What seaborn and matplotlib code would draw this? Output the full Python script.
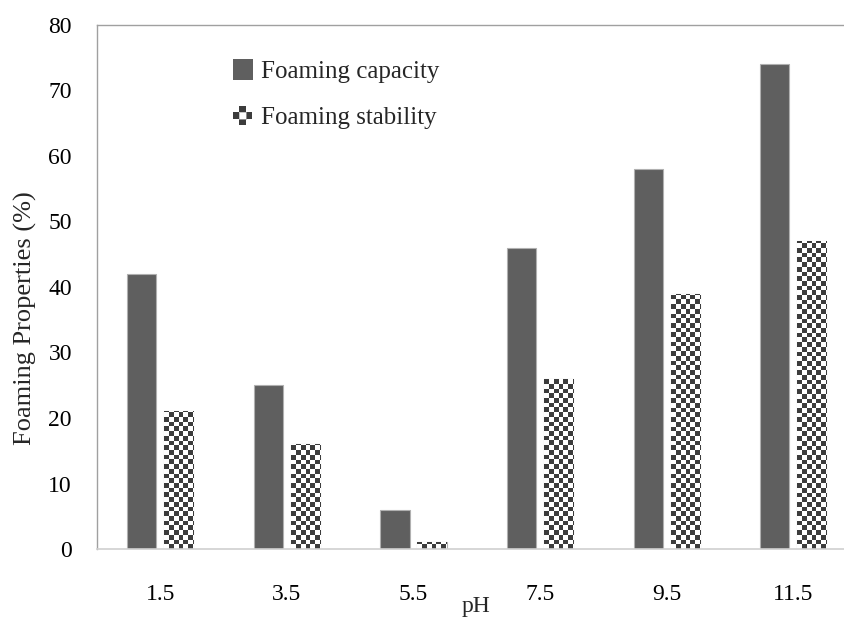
import numpy as np
import pandas as pd
import matplotlib
matplotlib.use("Agg")
import matplotlib.pyplot as plt
import seaborn as sns
from matplotlib.patches import Rectangle
from matplotlib.legend_handler import HandlerBase
from matplotlib.colors import ListedColormap

ph_labels = ["1.5", "3.5", "5.5", "7.5", "9.5", "11.5"]
foaming_capacity = [42, 25, 6, 46, 58, 74]
foaming_stability = [21, 16, 1, 26, 39, 47]
series_names = ["Foaming capacity", "Foaming stability"]

df = pd.DataFrame({
    "pH": ph_labels * 2,
    "value": foaming_capacity + foaming_stability,
    "series": [series_names[0]] * 6 + [series_names[1]] * 6,
})

sns.set_style("white")
plt.rcParams["font.family"] = ["Liberation Serif", "DejaVu Serif"]

W, H = 845, 622
fig = plt.figure(figsize=(W / 100, H / 100), dpi=100)
ax_left, ax_right, ax_bottom, ax_top = 97, 845, 549, 25
ax = fig.add_axes([ax_left / W, 1 - ax_bottom / H, (ax_right - ax_left) / W, (ax_bottom - ax_top) / H])

dark = "#5f5f5f"
checker_dark = "#3c3c3c"
sns.barplot(data=df, x="pH", y="value", hue="series", ax=ax,
            palette=[dark, "white"], width=0.585, gap=0.216,
            edgecolor="#b0b0b0", linewidth=0.8, legend=False)

px_per_unit = 126.6
xlim = (-0.5, -0.5 + (ax_right - ax_left) / px_per_unit)

# checker fill for stability bars
cell_px = 4.7
cx = cell_px / px_per_unit
cy = cell_px / ((ax_bottom - ax_top) / 80)
nx = int(1.0 / cx) + 2
ny = int(80 / cy) + 2
ii, jj = np.meshgrid(np.arange(nx), np.arange(ny))
checker = ((ii + jj) % 2).astype(float)
cmap = ListedColormap(["white", checker_dark])
for bar in ax.containers[1]:
    bx = bar.get_x()
    im = ax.imshow(checker, cmap=cmap, interpolation="nearest", origin="lower",
                   extent=[bx, bx + nx * cx, 0, ny * cy], aspect="auto",
                   zorder=bar.get_zorder() + 0.1)
    im.set_clip_path(bar)
ax.set_xlim(*xlim)
ax.set_ylim(0, 80)

ax.spines["right"].set_visible(False)
for s in ["left", "top"]:
    ax.spines[s].set_color("#a0a0a0")
    ax.spines[s].set_linewidth(1.0)
ax.spines["bottom"].set_color("#d0d0d0")
ax.spines["bottom"].set_linewidth(1.2)
ax.tick_params(axis="both", length=0, labelsize=17, colors="black")
ax.tick_params(axis="x", pad=25)
ax.tick_params(axis="y", pad=18)
ax.set_yticks(range(0, 81, 10))
ax.set_xlabel("pH", fontsize=17)
ax.xaxis.set_label_coords(0.507, -0.09)
ax.set_ylabel("Foaming Properties (%)", fontsize=19)
ax.yaxis.set_label_coords(-0.08, 0.44)


class CheckerHandler(HandlerBase):
    def create_artists(self, legend, orig_handle, xdescent, ydescent, width, height, fontsize, trans):
        s = 14
        x = width - s - 1
        y = -ydescent + (height - s) / 2
        h = s / 3
        arts = []
        for i in range(3):
            for j in range(3):
                c = checker_dark if (i + j) % 2 == 1 else "white"
                arts.append(Rectangle((x + i * h, y + j * h), h, h, facecolor=c,
                                      edgecolor="none", transform=trans))
        arts.append(Rectangle((x + h, y + h), h, h, facecolor="none", edgecolor="#b0b0b0",
                              linewidth=0.5, transform=trans))
        return arts


class SquareHandler(HandlerBase):
    def create_artists(self, legend, orig_handle, xdescent, ydescent, width, height, fontsize, trans):
        s = 15
        x = width - s
        y = -ydescent + (height - s) / 2
        return [Rectangle((x, y), s, s, facecolor=dark, edgecolor="none", transform=trans)]


h1 = Rectangle((0, 0), 1, 1)
h2 = Rectangle((0, 0), 1, 1)
ax.legend([h1, h2], series_names, handler_map={h1: SquareHandler(), h2: CheckerHandler()},
          loc="upper left", bbox_to_anchor=(221 / W, 1 - 48 / H), bbox_transform=fig.transFigure,
          frameon=False, fontsize=18, handlelength=0.8, handletextpad=0.3, labelspacing=0.95,
          borderpad=0)

fig.savefig("out.png", dpi=100)
